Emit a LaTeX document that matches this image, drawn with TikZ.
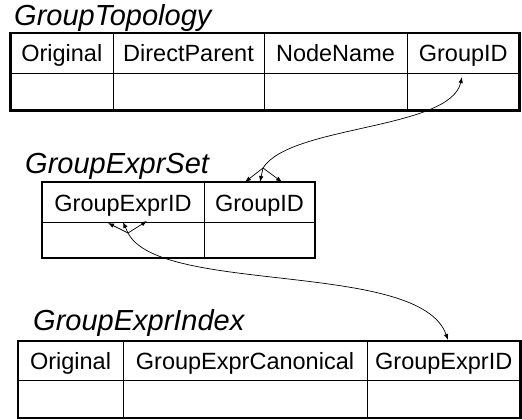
\documentclass[tikz,border=0pt]{standalone}
\usepackage{fontspec}
\setmainfont{Liberation Sans}
\usetikzlibrary{arrows.meta}

\begin{document}
\begin{tikzpicture}[x=1pt,y=-1pt,
    frame/.style={line width=2.6pt},
    grid/.style={line width=0.9pt},
    title/.style={anchor=base west,inner sep=0pt,font=\fontsize{29}{32}\selectfont\itshape},
    head/.style={anchor=base,inner sep=0pt,font=\fontsize{23.5}{27}\selectfont},
    link/.style={line width=0.7pt,-{Latex[length=6pt,width=4.5pt]}}]
  \useasboundingbox (0,0) rectangle (522,420);
  % GroupTopology
  \node[title] (topoT) at (14,26) {GroupTopology};
  \draw[grid] (10.5,73) -- (519.5,73);
  \draw[grid] (113,33) -- (113,110.5);
  \draw[grid] (264,33) -- (264,110.5);
  \draw[grid] (407,33) -- (407,110.5);
  \draw[frame] (10.5,33) rectangle (519.5,110.5);
  \node[head] (topoA) at ( 61.75,62) {Original};
  \node[head] (topoB) at (188.5, 62) {DirectParent};
  \node[head] (topoC) at (335.5, 62) {NodeName};
  \node[head] (topoD) at (463.25,62) {GroupID};
  % GroupExprSet
  \node[title] (setT) at (25,173) {GroupExprSet};
  \draw[grid] (42,222) -- (315,222);
  \draw[grid] (204,182) -- (204,258);
  \draw[frame] (42,182) rectangle (315,258);
  \node[head] (setA) at (123,  211) {GroupExprID};
  \node[head] (setB) at (259.5,211) {GroupID};
  % GroupExprIndex
  \node[title] (idxT) at (33,330) {GroupExprIndex};
  \draw[grid] (18,380) -- (520.5,380);
  \draw[grid] (123,341) -- (123,418);
  \draw[grid] (367,341) -- (367,418);
  \draw[frame] (18,341) rectangle (520.5,418);
  \node[head] (idxA) at ( 70.5, 369.5) {Original};
  \node[head] (idxB) at (245,   369.5) {GroupExprCanonical};
  \node[head] (idxC) at (443.75,369.5) {GroupExprID};
  % links
  \coordinate (topoEnd) at (462,77);
  \coordinate (setFork) at (263,168);
  \coordinate (setIn1) at (245,182);
  \coordinate (setIn2) at (260,182);
  \coordinate (setIn3) at (282,182);
  \coordinate (exprFork) at (128,233);
  \coordinate (exprIn1) at (108,223);
  \coordinate (exprIn2) at (123,222);
  \coordinate (exprIn3) at (147,221);
  \coordinate (idxEnd) at (448,340);
  \draw[link] (setFork) .. controls (290,125) and (450,130) .. (topoEnd);
  \draw[link] (setFork) -- (setIn1);
  \draw[link] (setFork) -- (setIn2);
  \draw[link] (setFork) -- (setIn3);
  \draw[link] (exprFork) .. controls (160,295) and (420,260) .. (idxEnd);
  \draw[link] (exprFork) -- (exprIn1);
  \draw[link] (exprFork) -- (exprIn2);
  \draw[link] (exprFork) -- (exprIn3);
\end{tikzpicture}
\end{document}
